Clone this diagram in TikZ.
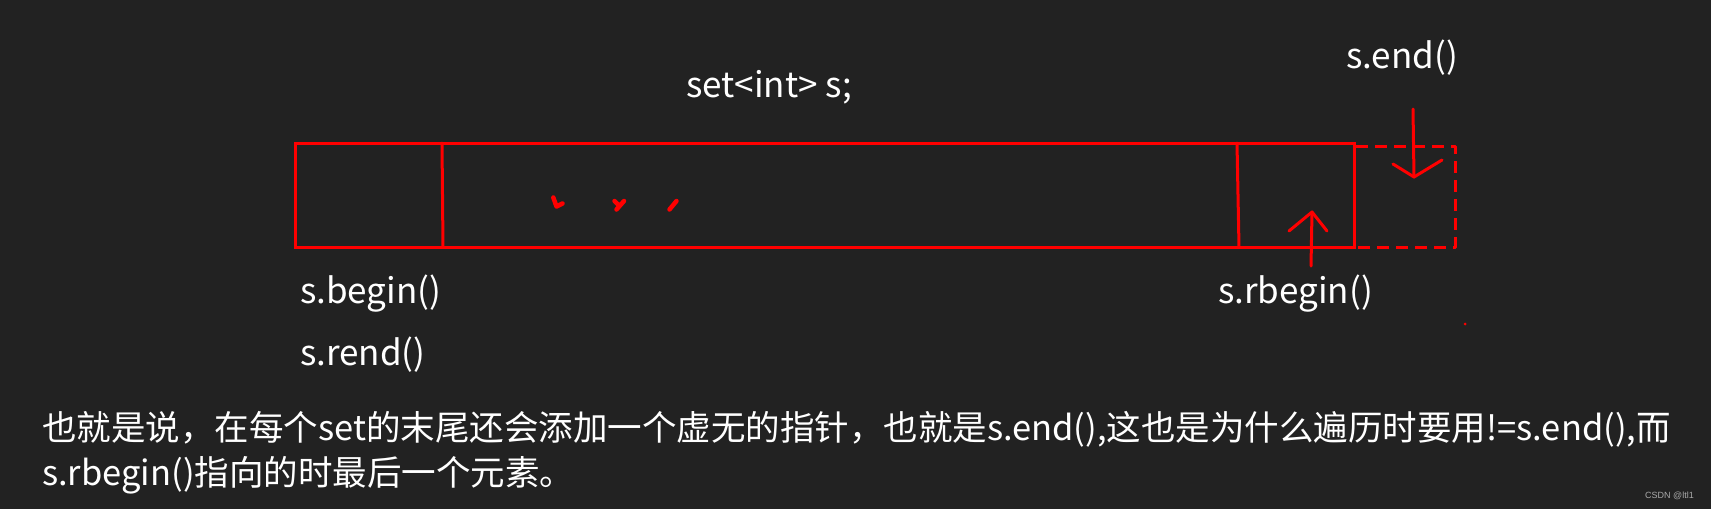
\documentclass[tikz,border=0pt]{standalone}
\usepackage{fontspec}
\setmainfont{Noto Sans CJK SC}
\newfontfamily\wmfont{Liberation Sans}
\definecolor{bg}{RGB}{34,34,34}
\definecolor{pen}{RGB}{255,0,0}
\definecolor{wm}{RGB}{170,170,170}
\begin{document}
\begin{tikzpicture}[x=1pt,y=-1pt,
  inkline/.style={draw=pen,line width=3pt,line cap=round,line join=round},
  blob/.style={draw=pen,line width=4.5pt,line cap=round,line join=round},
  label/.style={text=white,inner sep=0pt,anchor=base west,font=\fontsize{35}{38}\selectfont},
  body/.style={text=white,inner sep=0pt,anchor=base west,font=\fontsize{34.5}{38}\selectfont}]
\fill[bg] (0,0) rectangle (1711,509);
\useasboundingbox (0,0) rectangle (1711,509);
% main box
\draw[inkline,line cap=butt,line join=miter] (295,143) rectangle (1354,247);
\draw[inkline] (442,143) -- (443,247);
\draw[inkline] (1237,143) -- (1239,247);
% dashed extra box
\draw[inkline,line cap=butt,dash pattern=on 12pt off 7pt] (1356,146) -- (1455,146) -- (1455,247) -- (1356,247);
% dots
\draw[blob] (553.3,197.5) -- (556.5,206.5) -- (562.5,203.5);
\draw[blob] (614.5,201) -- (619.3,205.7);
\draw[blob] (624,201) -- (616.5,209.5);
\draw[blob] (669.5,209.5) -- (676.5,201);
\fill[pen] (1465,324) circle (1.5pt);
% arrows
\coordinate (endtip) at (1414,177);
\coordinate (rbtip) at (1312,212);
\draw[inkline] (1413,109) -- (endtip);
\draw[inkline] (1393,164) -- (endtip) -- (1442,160);
\draw[inkline] (1311,266) -- (rbtip);
\draw[inkline] (1289,231) -- (rbtip) -- (1327,231);
% labels
\node[label] (decl) at (686,97) {set<int> s;};
\node[label] (send) at (1346,68) {s.end()};
\node[label] (sbegin) at (300,303) {s.begin()};
\node[label] (srend) at (300,365) {s.rend()};
\node[label] (srbegin) at (1218,303) {s.rbegin()};
\node[body] (line1) at (42,440) {也就是说，在每个set的末尾还会添加一个虚无的指针，也就是s.end(),这也是为什么遍历时要用!=s.end(),而};
\node[body] (line2) at (42,485) {s.rbegin()指向的时最后一个元素。};
\node[text=wm,inner sep=0pt,anchor=base west,font=\wmfont\fontsize{9}{10}\selectfont] (wmark) at (1645,498) {CSDN @ltl1};
\end{tikzpicture}
\end{document}
